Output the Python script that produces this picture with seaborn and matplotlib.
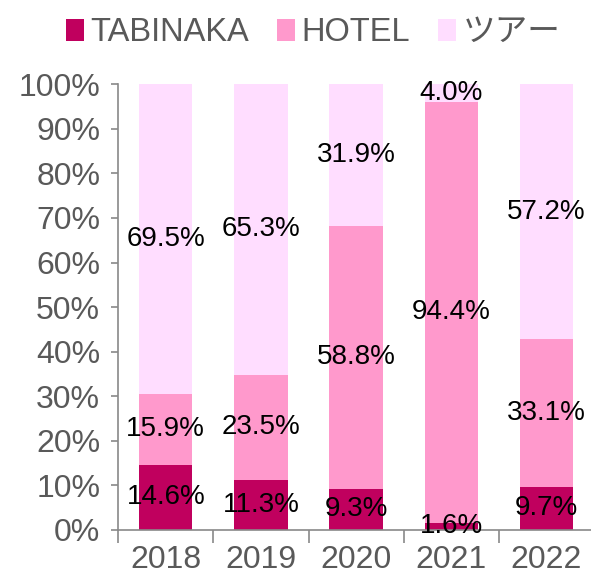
import numpy as np
import pandas as pd
import matplotlib
matplotlib.use('Agg')
import matplotlib.pyplot as plt
import seaborn as sb
from matplotlib.patches import Patch

years = ['2018', '2019', '2020', '2021', '2022']
tabinaka = [14.6, 11.3, 9.3, 1.6, 9.7]
hotel = [15.9, 23.5, 58.8, 94.4, 33.1]
tour = [69.5, 65.3, 31.9, 4.0, 57.2]
series_names = ['TABINAKA', 'HOTEL', 'ツアー']
colors = ['#C0005E', '#FF99CC', '#FFDDFF']

sb.set_style('white')
plt.rcParams['font.family'] = ['Liberation Sans', 'Noto Sans CJK JP']

df = pd.DataFrame({'year': years, 'TABINAKA': tabinaka, 'HOTEL': hotel, 'ツアー': tour})

fig = plt.figure(figsize=(5.91, 5.77), dpi=100)
ax = fig.add_axes([0.2, 0.0815, 0.805, 0.7725])

bottom = np.zeros(len(years))
for name, col in zip(series_names, colors):
    sb.barplot(data=df, x='year', y=name, color=col, bottom=bottom, width=0.56,
               saturation=1, ax=ax, edgecolor='none')
    for i, v in enumerate(df[name]):
        ax.text(i, bottom[i] + v / 2, f'{v:.1f}%', ha='center', va='center',
                fontsize=20, color='black')
    bottom = bottom + df[name].values

ax.set_xlim(-0.5, 4.5)
ax.set_ylim(0, 100)
ax.set_yticks(range(0, 101, 10))
ax.set_yticklabels([f'{t}%' for t in range(0, 101, 10)])
ax.set_xlabel('')
ax.set_ylabel('')

for s in ['top', 'right']:
    ax.spines[s].set_visible(False)
for s in ['left', 'bottom']:
    ax.spines[s].set_color('#898989')
    ax.spines[s].set_linewidth(1.2)

ax.tick_params(axis='y', labelsize=23, colors='#595959', length=5, width=1.2,
               direction='out', left=True, pad=8)
ax.tick_params(axis='y', color='#898989')
ax.tick_params(axis='x', labelsize=23, colors='#595959', length=0, pad=11)
ax.set_xticks(np.arange(-0.5, 5, 1), minor=True)
ax.tick_params(axis='x', which='minor', length=9, width=1.2, color='#898989',
               direction='out', bottom=True)

handles = [Patch(facecolor=c, edgecolor='none') for c in colors]
fig.legend(handles, series_names, loc='center', bbox_to_anchor=(0.53, 0.943), ncol=3,
           frameon=False, fontsize=23.5, handlelength=0.55, handleheight=0.7,
           handletextpad=0.2, columnspacing=0.85, labelcolor='#595959')

plt.savefig('out.png', dpi=100)
